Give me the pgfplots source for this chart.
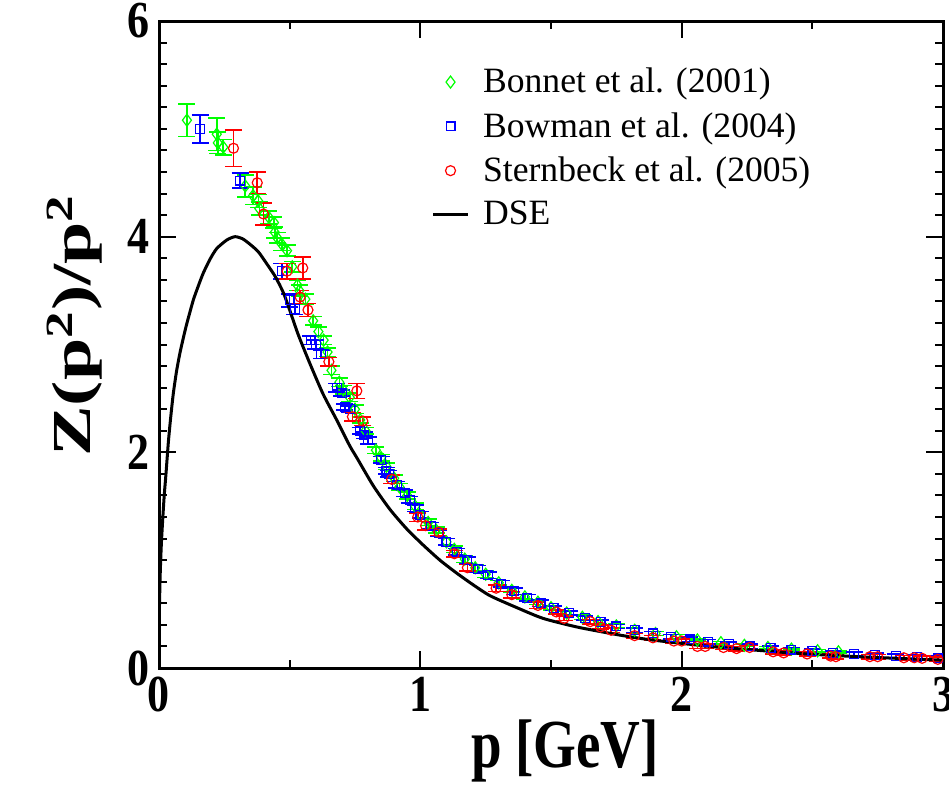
\documentclass[border=0pt]{standalone}
\usepackage{graphicx}
\usepackage{pgfplots}
\pgfplotsset{compat=1.18}
\usepackage{pgfplotstable}
\usepackage{fontspec}
\setmainfont{Liberation Serif}
\definecolor{xgreen}{RGB}{0,255,0}
\definecolor{xblue}{RGB}{0,0,255}
\definecolor{xred}{RGB}{255,0,0}

\pgfplotstableread{
x y e
0.107 5.08 0.15
0.221 4.95 0.15
0.225 4.87 0.10
0.246 4.83 0.07
0.330 4.47 0.10
0.360 4.38 0.08
0.380 4.33 0.06
0.384 4.26 0.06
0.420 4.18 0.06
0.440 4.13 0.05
0.443 4.04 0.05
0.452 3.99 0.05
0.470 3.93 0.06
0.490 3.87 0.05
0.510 3.72 0.05
0.530 3.55 0.05
0.537 3.50 0.05
0.560 3.42 0.05
0.590 3.22 0.04
0.610 3.12 0.04
0.630 3.04 0.04
0.645 2.93 0.04
0.660 2.76 0.04
0.690 2.65 0.04
0.705 2.58 0.04
0.730 2.51 0.04
0.750 2.40 0.04
0.770 2.30 0.03
0.790 2.20 0.03
0.830 2.02 0.03
0.850 1.95 0.03
0.870 1.87 0.03
0.900 1.76 0.03
0.920 1.68 0.03
0.950 1.60 0.03
0.980 1.50 0.03
1.000 1.42 0.03
1.030 1.35 0.03
1.060 1.28 0.03
1.100 1.17 0.03
1.130 1.10 0.03
1.170 1.01 0.03
1.210 0.93 0.03
1.250 0.87 0.03
1.300 0.79 0.02
1.350 0.72 0.02
1.400 0.66 0.02
1.450 0.61 0.02
1.500 0.56 0.02
1.560 0.51 0.02
1.620 0.47 0.02
1.680 0.43 0.02
1.750 0.39 0.02
1.820 0.35 0.02
1.900 0.32 0.02
1.980 0.29 0.02
2.060 0.26 0.01
2.150 0.235 0.01
2.240 0.21 0.01
2.330 0.19 0.01
2.420 0.175 0.01
2.520 0.16 0.01
2.600 0.15 0.01
}\bonnet

\pgfplotstableread{
x y e
0.157 5.00 0.13
0.310 4.52 0.07
0.470 3.68 0.07
0.500 3.41 0.06
0.520 3.33 0.05
0.580 3.04 0.04
0.600 3.00 0.04
0.620 2.91 0.04
0.680 2.60 0.04
0.700 2.55 0.03
0.710 2.42 0.03
0.730 2.40 0.03
0.770 2.20 0.03
0.785 2.16 0.03
0.800 2.11 0.03
0.850 1.93 0.03
0.870 1.83 0.03
0.880 1.80 0.03
0.910 1.70 0.03
0.940 1.62 0.03
0.960 1.56 0.03
0.980 1.48 0.03
1.000 1.42 0.03
1.040 1.32 0.03
1.070 1.25 0.03
1.100 1.17 0.03
1.140 1.08 0.03
1.180 1.00 0.03
1.220 0.92 0.03
1.260 0.86 0.03
1.310 0.78 0.03
1.360 0.71 0.03
1.410 0.65 0.03
1.460 0.60 0.03
1.510 0.555 0.02
1.570 0.51 0.02
1.630 0.465 0.02
1.690 0.425 0.02
1.750 0.385 0.02
1.820 0.35 0.02
1.890 0.32 0.02
1.960 0.29 0.02
2.030 0.265 0.02
2.100 0.245 0.02
2.180 0.22 0.02
2.260 0.20 0.02
2.340 0.185 0.02
2.420 0.17 0.02
2.500 0.155 0.02
2.580 0.14 0.02
2.660 0.13 0.02
2.740 0.12 0.02
2.820 0.11 0.02
2.900 0.10 0.02
2.980 0.09 0.02
}\bowman

\pgfplotstableread{
x y e
0.285 4.82 0.17
0.376 4.50 0.10
0.400 4.21 0.10
0.490 3.68 0.07
0.550 3.71 0.10
0.540 3.44 0.06
0.570 3.32 0.06
0.650 2.84 0.04
0.757 2.57 0.07
0.740 2.33 0.04
0.780 2.29 0.04
0.890 1.75 0.04
0.990 1.40 0.04
1.020 1.32 0.04
1.070 1.26 0.03
1.130 1.06 0.03
1.180 0.93 0.03
1.290 0.74 0.03
1.350 0.68 0.03
1.450 0.58 0.03
1.520 0.52 0.02
1.550 0.46 0.02
1.650 0.43 0.02
1.690 0.38 0.02
1.730 0.35 0.02
1.820 0.30 0.02
1.890 0.28 0.02
1.970 0.25 0.02
2.000 0.25 0.02
2.060 0.20 0.02
2.090 0.20 0.02
2.160 0.19 0.02
2.210 0.18 0.02
2.260 0.19 0.02
2.350 0.15 0.02
2.390 0.14 0.02
2.480 0.13 0.02
2.570 0.11 0.02
2.590 0.105 0.02
2.720 0.105 0.02
2.750 0.105 0.02
2.850 0.095 0.02
2.890 0.095 0.02
2.920 0.09 0.02
2.980 0.08 0.02
}\sternbeck

\pgfplotstableread{
x y
0.000 0.00
0.0005 0.30
0.002 0.60
0.005 0.90
0.009 1.15
0.014 1.37
0.020 1.60
0.027 1.81
0.036 2.10
0.045 2.33
0.055 2.55
0.067 2.75
0.080 2.92
0.093 3.06
0.106 3.19
0.131 3.41
0.150 3.54
0.169 3.66
0.195 3.79
0.221 3.89
0.260 3.97
0.291 4.00
0.320 3.98
0.348 3.93
0.380 3.86
0.412 3.75
0.445 3.63
0.476 3.48
0.500 3.32
0.533 3.09
0.578 2.82
0.628 2.54
0.680 2.30
0.730 2.06
0.757 1.95
0.820 1.69
0.884 1.47
0.948 1.29
1.011 1.14
1.075 1.00
1.139 0.88
1.203 0.77
1.267 0.67
1.369 0.56
1.470 0.46
1.600 0.38
1.752 0.31
1.870 0.265
1.994 0.23
2.130 0.195
2.262 0.17
2.390 0.145
2.517 0.125
2.650 0.108
2.772 0.095
2.900 0.082
3.000 0.073
}\dse

\begin{document}
\begin{tikzpicture}
\begin{axis}[
  scale only axis, width=392pt, height=323.5pt,
  xmin=0, xmax=3, ymin=0, ymax=6,
  xtick={0,1,2,3}, ytick={0,2,4,6},
  minor x tick num=1, minor y tick num=9,
  tick align=inside,
  xtick pos=both, ytick pos=both,
  major tick length=8.5pt, minor tick length=4pt,
  axis line style={line width=1.5pt},
  every tick/.style={black, line width=1pt},
  /pgf/number format/assume math mode=true,
  ticklabel style={font=\bfseries\fontsize{22}{22}\selectfont},
  xticklabel={\scalebox{1}[1.18]{\pgfmathprintnumber{\tick}}},
  yticklabel={\scalebox{1}[1.18]{\pgfmathprintnumber{\tick}}},
  xticklabel style={yshift=-1pt},
  yticklabel style={xshift=-1pt},
  xlabel={\scalebox{1}[1.25]{p [GeV]}},
  xlabel style={font=\bfseries\fontsize{27.5}{28}\selectfont, xshift=7pt, yshift=3pt},
  ylabel={\scalebox{1.38}[1]{Z(p\textsuperscript{2})/p\textsuperscript{2}}},
  ylabel style={font=\bfseries\fontsize{27.5}{28}\selectfont, xshift=9.5pt, yshift=6pt},
  legend style={at={(rel axis cs:0.34,0.94)}, anchor=north west, draw=none, fill=none,
    font=\fontsize{17.8}{21}\selectfont, row sep=4.3pt, cells={anchor=west},
    /tikz/every odd column/.append style={column sep=5pt}},
  legend cell align=left,
]
\addplot[only marks, color=xgreen, mark=diamond, mark size=3pt,
  mark options={line width=0.6pt, fill=none, solid},
  error bars/.cd, y dir=both, y explicit,
  error bar style={line width=0.8pt, xgreen},
  error mark options={rotate=90, mark size=4.25pt, line width=0.8pt, xgreen}]
  table[x=x, y=y, y error=e] {\bonnet};
\addlegendentry{Bonnet et al. (2001)}
\addplot[only marks, color=xblue, mark=square, mark size=2.2pt,
  mark options={line width=0.6pt, fill=none, solid},
  error bars/.cd, y dir=both, y explicit,
  error bar style={line width=0.8pt, xblue},
  error mark options={rotate=90, mark size=4.25pt, line width=0.8pt, xblue}]
  table[x=x, y=y, y error=e] {\bowman};
\addlegendentry{Bowman et al. (2004)}
\addplot[only marks, color=xred, mark=o, mark size=2.5pt,
  mark options={line width=0.6pt, fill=none, solid},
  error bars/.cd, y dir=both, y explicit,
  error bar style={line width=0.8pt, xred},
  error mark options={rotate=90, mark size=4.25pt, line width=0.8pt, xred}]
  table[x=x, y=y, y error=e] {\sternbeck};
\addlegendentry{Sternbeck et al. (2005)}
\addplot[black, line width=1.5pt, no marks, smooth, tension=0.4] table[x=x, y=y] {\dse};
\addlegendentry{DSE}
\coordinate (A) at (rel axis cs:0,0);
\coordinate (B) at (rel axis cs:1,1);
\end{axis}
\pgfresetboundingbox
\useasboundingbox ([shift={(-79.5pt,-58.5pt)}]A) rectangle ([shift={(3pt,10.5pt)}]B);
\end{tikzpicture}
\end{document}
